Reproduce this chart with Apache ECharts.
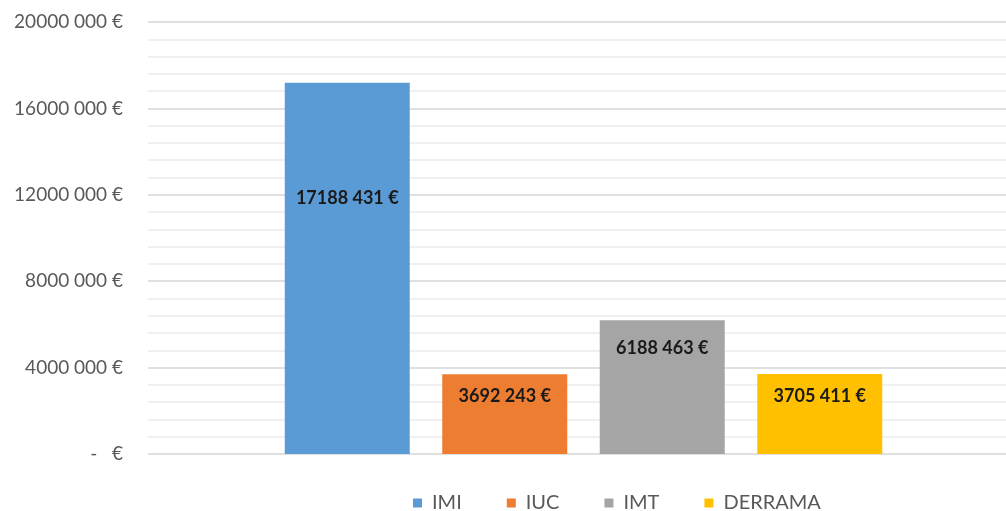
<!DOCTYPE html>
<html>
<head>
<meta charset="utf-8">
<script src="https://cdn.jsdelivr.net/npm/echarts@6/dist/echarts.min.js"></script>
<style>
  html, body { margin: 0; padding: 0; background: #ffffff; }
  #chart { width: 1006px; height: 511px; }
</style>
</head>
<body>
<div id="chart"></div>
<script>
// Receita fiscal por imposto
const seriesNames = ['IMI', 'IUC', 'IMT', 'DERRAMA'];
const seriesValues = [17188431, 3692243, 6188463, 3705411];
const seriesColors = ['#5b9bd5', '#ed7d31', '#a5a5a5', '#ffc000'];
const yMin = 0;
const yMax = 20000000;
const yInterval = 4000000;

// Distance of each value label below the top of its bar
const labelDistances = [106, 13, 19, 13];

function euro(v) {
  if (v === 0) return '-   €';
  const thousands = Math.floor(v / 1000);
  const rest = String(Math.round(v % 1000)).padStart(3, '0');
  return thousands + ' ' + rest + ' €';
}

const FONT = 'Lato, "Open Sans", sans-serif';

const chart = echarts.init(document.getElementById('chart'), null, { renderer: 'canvas' });

const series = seriesNames.map((name, i) => ({
  name: name,
  type: 'bar',
  data: [seriesValues[i]],
  barWidth: 125,
  barGap: '26%',
  itemStyle: { color: seriesColors[i] },
  label: {
    show: true,
    position: 'insideTop',
    distance: labelDistances[i],
    formatter: p => euro(p.value),
    color: '#1a1a1a',
    fontWeight: 'bold',
    fontSize: 18,
    fontFamily: FONT
  }
}));

chart.setOption({
  animation: false,
  backgroundColor: '#ffffff',
  grid: {
    left: 148, width: 871, top: 22, bottom: 57,
    containLabel: false, outerBoundsMode: 'none'
  },
  legend: {
    data: seriesNames,
    top: 488,
    left: 408,
    itemWidth: 9,
    itemHeight: 9,
    itemGap: 45,
    icon: 'rect',
    textStyle: { color: '#595959', fontSize: 20, fontFamily: FONT, padding: [0, 0, 0, 5] }
  },
  xAxis: {
    type: 'category',
    data: [''],
    axisLine: { show: false },
    axisTick: { show: false },
    axisLabel: { show: false }
  },
  yAxis: {
    type: 'value',
    min: yMin,
    max: yMax,
    interval: yInterval,
    axisLine: { show: false },
    axisTick: { show: false },
    axisLabel: {
      formatter: v => euro(v),
      color: '#595959',
      fontSize: 19,
      fontFamily: FONT,
      margin: 25
    },
    splitLine: { lineStyle: { color: '#d6d6d6', width: 1.5 } },
    minorTick: { show: false, splitNumber: 5 },
    minorSplitLine: { show: true, lineStyle: { color: '#ececec', width: 1.5 } }
  },
  series: series
});
</script>
</body>
</html>
